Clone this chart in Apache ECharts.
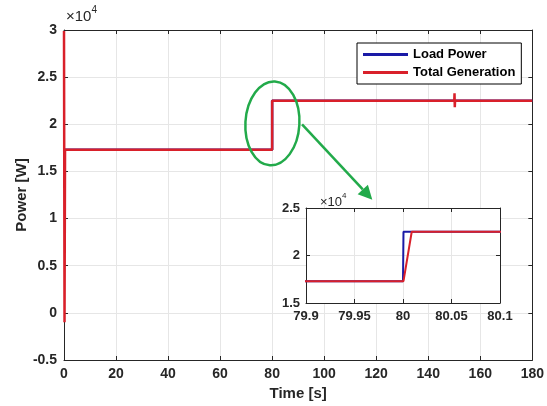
<!DOCTYPE html>
<html><head><meta charset="utf-8">
<script src="https://cdn.jsdelivr.net/npm/echarts@6/dist/echarts.min.js"></script>
<style>html,body{margin:0;padding:0;background:#fff}#c{width:547px;height:406px}</style>
</head><body><div id="c"></div>
<script>
// ---- data ----
const loadTime  = [0, 80, 80.0005, 180];
const loadPower = [17300, 17300, 22500, 22500];
const genTime   = [0, 0.2, 0.4, 80.0005, 80.009, 150, 150.1, 150.2, 150.3, 180];
const genPower  = [29900, -1000, 17300, 17300, 22500, 22500, 23300, 21800, 22500, 22500];
const mainXTicks = [0, 20, 40, 60, 80, 100, 120, 140, 160, 180];
const mainYTicks = [-0.5, 0, 0.5, 1, 1.5, 2, 2.5, 3];
const insetXTicks = [79.9, 79.95, 80, 80.05, 80.1];
const insetYTicks = [1.5, 2, 2.5];
const seriesNames = ['Load Power', 'Total Generation'];

const pair = (t, v) => t.map((x, i) => [x, v[i]]);
const loadData = pair(loadTime, loadPower);
const genData = pair(genTime, genPower);

const AX = '#262626';
const FONT = '"Liberation Sans", Arial, sans-serif';
const BLUE = '#1a1aa6', RED = '#d9202a', GREEN = '#22aa4a';

function axisCommon(showLabel, fs, margin) {
  return {
    axisLine: {show: true, onZero: false, lineStyle: {color: AX, width: 1}},
    axisTick: {show: true, inside: true, length: 4, lineStyle: {color: AX}},
    axisLabel: {show: showLabel, color: AX, fontFamily: FONT, fontWeight: 'bold', fontSize: fs, margin: margin},
  };
}
const fmt = v => String(Math.round(v * 100) / 100);

const chart = echarts.init(document.getElementById('c'), null, {renderer: 'canvas'});
const option = {
  animation: false,
  backgroundColor: '#fff',
  grid: [
    {left: 64, right: 10, top: 30, bottom: 45},
    {left: 306, top: 208, width: 194, height: 95, backgroundColor: '#fff', show: true, borderWidth: 0, z: 5}
  ],
  xAxis: [
    Object.assign(axisCommon(true, 14, 7), {
      type: 'value', gridIndex: 0, min: mainXTicks[0], max: mainXTicks[mainXTicks.length - 1], interval: 20,
      name: 'Time [s]', nameLocation: 'middle', nameGap: 26,
      nameTextStyle: {color: AX, fontFamily: FONT, fontWeight: 'bold', fontSize: 15},
      splitLine: {show: true, lineStyle: {color: '#e6e6e6', width: 1}},
    }),
    Object.assign(axisCommon(false, 14, 7), {
      type: 'value', gridIndex: 0, position: 'top', min: 0, max: 180, interval: 20, splitLine: {show: false}
    }),
    Object.assign(axisCommon(true, 13, 6), {
      type: 'value', gridIndex: 1, min: insetXTicks[0], max: insetXTicks[insetXTicks.length - 1], interval: 0.05,
      axisLabel: {color: AX, fontFamily: FONT, fontWeight: 'bold', fontSize: 13, margin: 7, formatter: fmt},
      splitLine: {show: true, lineStyle: {color: '#e6e6e6'}}, z: 6
    }),
    Object.assign(axisCommon(false, 13, 6), {
      type: 'value', gridIndex: 1, position: 'top', min: 79.9, max: 80.1, interval: 0.05, splitLine: {show: false}, z: 6
    })
  ],
  yAxis: [
    Object.assign(axisCommon(true, 14, 7), {
      type: 'value', gridIndex: 0, min: mainYTicks[0] * 1e4, max: mainYTicks[mainYTicks.length - 1] * 1e4, interval: 5000,
      axisLabel: {color: AX, fontFamily: FONT, fontWeight: 'bold', fontSize: 14, margin: 7, formatter: v => fmt(v / 1e4)},
      name: 'Power [W]', nameLocation: 'middle', nameGap: 35, nameMoveOverlap: false,
      nameTextStyle: {color: AX, fontFamily: FONT, fontWeight: 'bold', fontSize: 15},
      splitLine: {show: true, lineStyle: {color: '#e6e6e6', width: 1}},
    }),
    Object.assign(axisCommon(false, 14, 7), {
      type: 'value', gridIndex: 0, position: 'right', min: -5000, max: 30000, interval: 5000, splitLine: {show: false}
    }),
    Object.assign(axisCommon(true, 13, 6), {
      type: 'value', gridIndex: 1, min: insetYTicks[0] * 1e4, max: insetYTicks[insetYTicks.length - 1] * 1e4, interval: 5000,
      axisLabel: {color: AX, fontFamily: FONT, fontWeight: 'bold', fontSize: 13, margin: 6, formatter: v => fmt(v / 1e4)},
      splitLine: {show: true, lineStyle: {color: '#e6e6e6'}}, z: 6
    }),
    Object.assign(axisCommon(false, 13, 6), {
      type: 'value', gridIndex: 1, position: 'right', min: 15000, max: 25000, interval: 5000, splitLine: {show: false}, z: 6
    })
  ],
  legend: {
    data: seriesNames, orient: 'vertical', left: 357, top: 43,
    padding: [5, 6, 5, 6], itemGap: 5, itemWidth: 45, itemHeight: 3, icon: 'rect',
    backgroundColor: '#fff', borderColor: '#000', borderWidth: 1, borderRadius: 0,
    textStyle: {color: '#000', fontFamily: FONT, fontWeight: 'bold', fontSize: 13}
  },
  series: [
    {name: seriesNames[0], type: 'line', xAxisIndex: 0, yAxisIndex: 0, data: loadData, showSymbol: false, symbol: 'none',
     lineStyle: {color: BLUE, width: 2.5}, itemStyle: {color: BLUE}, z: 2},
    {name: seriesNames[1], type: 'line', xAxisIndex: 0, yAxisIndex: 0, data: genData, showSymbol: false, symbol: 'none',
     lineStyle: {color: RED, width: 2.5}, itemStyle: {color: RED}, z: 3},
    {name: seriesNames[0], type: 'line', xAxisIndex: 2, yAxisIndex: 2, data: loadData, showSymbol: false, symbol: 'none', clip: true,
     lineStyle: {color: BLUE, width: 2}, itemStyle: {color: BLUE}, z: 7},
    {name: seriesNames[1], type: 'line', xAxisIndex: 2, yAxisIndex: 2, data: genData, showSymbol: false, symbol: 'none', clip: true,
     lineStyle: {color: RED, width: 2}, itemStyle: {color: RED}, z: 8}
  ]
};
chart.setOption(option);

// annotations positioned from data coordinates
const c = chart.convertToPixel({gridIndex: 0}, [80.1, 20100]);
const a0 = chart.convertToPixel({gridIndex: 0}, [91.5, 20000]);
const a1 = chart.convertToPixel({gridIndex: 0}, [118.5, 12000]);
const ang = Math.atan2(a1[1] - a0[1], a1[0] - a0[0]);
const hl = 14, hw = 7;
const base = [a1[0] - hl * Math.cos(ang), a1[1] - hl * Math.sin(ang)];
const px = -Math.sin(ang), py = Math.cos(ang);
const sup = (x, y, fs) => ({
  type: 'text', left: x, top: y, z: 20,
  style: {text: '{a|\u00d710}{b|4}', rich: {
    a: {fontFamily: FONT, fontSize: fs, fill: AX, verticalAlign: 'bottom', lineHeight: fs + 4},
    b: {fontFamily: FONT, fontSize: fs - 5, fill: AX, verticalAlign: 'top', padding: [0, 0, 7, 0], lineHeight: fs + 4}
  }}
});
chart.setOption({
  graphic: [
    {type: 'ellipse', shape: {cx: c[0], cy: c[1], rx: 27, ry: 42}, rotation: -0.06, originX: c[0], originY: c[1],
     style: {fill: 'none', stroke: GREEN, lineWidth: 2.5}, z: 20},
    {type: 'line', shape: {x1: a0[0], y1: a0[1], x2: base[0], y2: base[1]}, style: {stroke: GREEN, lineWidth: 2.5}, z: 20},
    {type: 'polygon', shape: {points: [a1, [base[0] + px * hw, base[1] + py * hw], [base[0] - px * hw, base[1] - py * hw]]},
     style: {fill: GREEN}, z: 20},
    sup(66, 5, 15),
    sup(320, 192, 13)
  ]
});
</script>
</body></html>
